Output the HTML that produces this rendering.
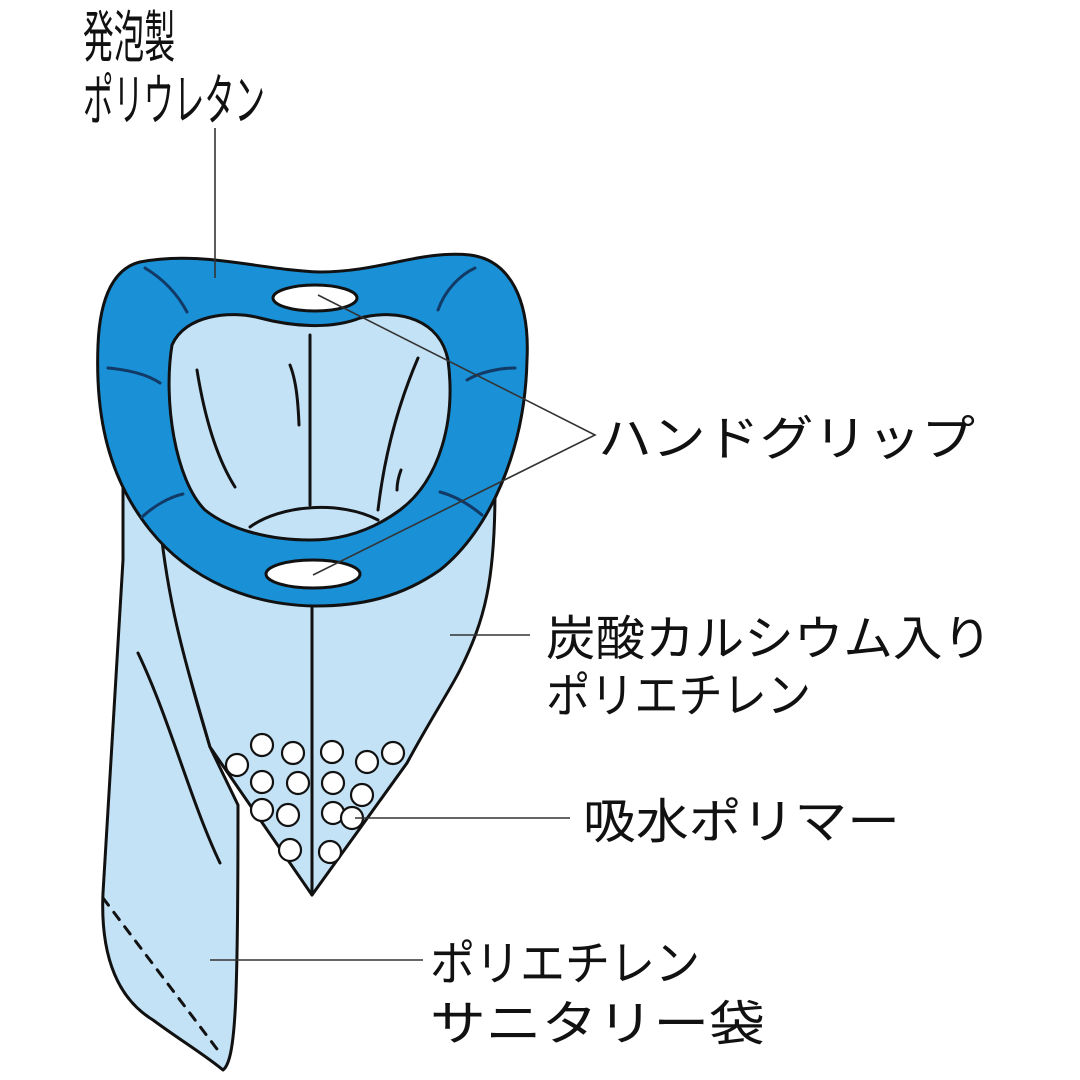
<!DOCTYPE html>
<html><head><meta charset="utf-8"><style>
html,body{margin:0;padding:0;background:#fff;}
svg{display:block;}
text{font-family:"Liberation Sans","Noto Sans CJK JP",sans-serif;fill:#111;font-size:48px;}
</style></head><body>
<svg width="1080" height="1080" viewBox="0 0 1080 1080" xmlns="http://www.w3.org/2000/svg">
<g stroke="#111" stroke-width="3" stroke-linejoin="round" stroke-linecap="round">
<path d="M123,470 L123,560 C115,700 108,800 103,893 C100,960 120,1000 153,1020 C180,1040 205,1055 223,1070 C236,1060 238,1000 238,805 L210,747 C190,680 165,600 160,470 Z" fill="#c4e2f5"/>
<path d="M157,490 C165,600 185,660 210,747 L312,895 L407,763 C430,720 450,690 460,670 C485,620 495,580 495,490 Z" fill="#c4e2f5"/>
<line x1="312" y1="590" x2="312" y2="895"/>
<path d="M138,653 C170,720 190,800 220,863" fill="none"/>
<path d="M103,898 L220,1053" fill="none" stroke-dasharray="9,9"/>
<path d="M140,262 C200,250 260,270 320,272 C380,272 420,250 470,255 C510,260 530,300 527,360 C525,450 490,530 440,570 C400,598 360,606 315,606 C250,605 190,580 150,530 C110,480 95,420 98,345 C100,295 115,268 140,262 Z" fill="#1a90d6"/>
<path d="M172,345 C185,315 230,310 260,318 C290,326 330,330 360,318 C400,308 440,320 448,360 C456,420 440,480 400,510 C370,532 340,540 310,540 C270,540 230,530 205,510 C175,480 163,400 172,345 Z" fill="#c4e2f5"/>
<path d="M250,527 C280,505 340,500 378,520" fill="none"/>
<line x1="310" y1="335" x2="310" y2="505"/>
<path d="M197,370 C205,420 218,460 235,487" fill="none"/>
<path d="M290,365 C296,380 298,400 299,425" fill="none"/>
<path d="M418,358 C400,400 385,450 378,510" fill="none"/>
<path d="M401,470 C398,478 397,485 397,490" fill="none"/>
<ellipse cx="315" cy="298" rx="42" ry="13" fill="#fff"/>
<ellipse cx="313" cy="574" rx="47" ry="14" fill="#fff"/>
<g stroke="#123a66" fill="none">
<path d="M145,268 C165,280 178,295 187,312"/>
<path d="M108,368 C130,370 148,375 160,383"/>
<path d="M142,517 C155,505 170,497 183,494"/>
<path d="M438,310 C445,290 460,275 475,268"/>
<path d="M467,380 C480,372 500,368 515,368"/>
<path d="M440,492 C455,496 470,505 482,515"/>
</g>
<g fill="#fff" stroke-width="2.2">
<circle cx="262" cy="745" r="11"/><circle cx="293" cy="753" r="11"/><circle cx="332" cy="752" r="11"/><circle cx="367" cy="762" r="11"/><circle cx="393" cy="753" r="11"/>
<circle cx="237" cy="765" r="11"/><circle cx="262" cy="782" r="11"/><circle cx="298" cy="783" r="11"/><circle cx="333" cy="783" r="11"/><circle cx="362" cy="795" r="11"/>
<circle cx="262" cy="810" r="11"/><circle cx="288" cy="815" r="11"/><circle cx="333" cy="813" r="11"/><circle cx="352" cy="818" r="11"/>
<circle cx="290" cy="850" r="11"/><circle cx="330" cy="852" r="11"/>
</g>
</g>
<g stroke="#333" stroke-width="1.6" fill="none">
<line x1="215" y1="128" x2="215" y2="278"/>
<polyline points="318,295 595,435 313,575"/>
<line x1="450" y1="635" x2="530" y2="635"/>
<line x1="355" y1="818" x2="570" y2="818"/>
<line x1="210" y1="960" x2="423" y2="960"/>
</g>
<text x="83" y="57" style="font-size:56px" textLength="92" lengthAdjust="spacingAndGlyphs">発泡製</text>
<text x="83" y="120" style="font-size:56px" textLength="182" lengthAdjust="spacingAndGlyphs">ポリウレタン</text>
<text x="598" y="455" textLength="377" lengthAdjust="spacingAndGlyphs">ハンドグリップ</text>
<text x="546" y="655" textLength="446" lengthAdjust="spacingAndGlyphs">炭酸カルシウム入り</text>
<text x="546" y="712" textLength="265" lengthAdjust="spacingAndGlyphs">ポリエチレン</text>
<text x="583" y="838" textLength="317" lengthAdjust="spacingAndGlyphs">吸水ポリマー</text>
<text x="430" y="980" textLength="270" lengthAdjust="spacingAndGlyphs">ポリエチレン</text>
<text x="430" y="1040" textLength="335" lengthAdjust="spacingAndGlyphs">サニタリー袋</text>
</svg>
</body></html>
